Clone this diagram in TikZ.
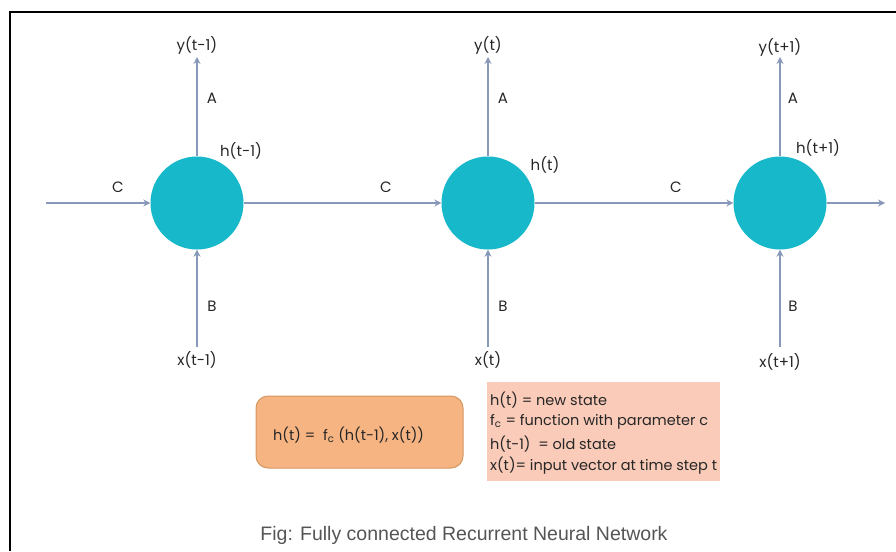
\documentclass[tikz,border=0pt]{standalone}
\usepackage{fontspec}
\setmainfont{Poppins}
\newfontfamily\capfont{Liberation Sans}
\usetikzlibrary{arrows.meta}
\definecolor{cellcyan}{RGB}{22,184,202}
\definecolor{wire}{RGB}{135,152,185}
\definecolor{eqfill}{RGB}{245,180,130}
\definecolor{eqdraw}{RGB}{214,150,95}
\definecolor{notefill}{RGB}{249,203,184}
\definecolor{captxt}{RGB}{85,85,85}
\begin{document}
\begin{tikzpicture}[x=1pt,y=-1pt,
  cell/.style={circle,fill=cellcyan,minimum size=93pt,inner sep=0pt},
  link/.style={draw=wire,line width=2.3pt,-{Stealth[length=7pt,width=7pt]}},
  lbl/.style={font=\fontsize{15}{17}\selectfont,text=black!85,inner sep=0pt},
  note/.style={font=\fontsize{14.5}{17}\selectfont,text=black!85,inner sep=0pt,anchor=west},
  eqbox/.style={draw=eqdraw,line width=1pt,fill=eqfill,rounded corners=12pt,minimum width=207pt,minimum height=72pt},
  notebox/.style={fill=notefill,minimum width=233pt,minimum height=99pt,inner sep=0pt}]
\useasboundingbox (0,0) rectangle (896,551);
% frame edges
\draw[line width=2pt] (10,551) -- (10,12) -- (896,12);

% recurrent cells
\node[cell] (h1) at (197,203) {};
\node[cell] (h2) at (488,203) {};
\node[cell] (h3) at (780,203) {};

% free ends of the connectors
\coordinate (cin) at (46,203);
\coordinate (cout) at (885,203);
\coordinate (y1) at (197,57);
\coordinate (y2) at (488,57);
\coordinate (y3) at (780,57);
\coordinate (x1) at (197,347);
\coordinate (x2) at (488,347);
\coordinate (x3) at (780,347);

% hidden-state chain
\draw[link] (cin) -- (h1.west);
\draw[link] (h1.east) -- (h2.west);
\draw[link] (h2.east) -- (h3.west);
\draw[link] (h3.east) -- (cout);
% outputs
\draw[link] (h1.north) -- (y1);
\draw[link] (h2.north) -- (y2);
\draw[link] (h3.north) -- (y3);
% inputs
\draw[link] (x1) -- (h1.south);
\draw[link] (x2) -- (h2.south);
\draw[link] (x3) -- (h3.south);

% weight labels
\node[lbl] (c1) at (118,187) {C};
\node[lbl] (c2) at (386,187) {C};
\node[lbl] (c3) at (676,187) {C};
\node[lbl] (a1) at (212,98) {A};
\node[lbl] (a2) at (503,98) {A};
\node[lbl] (a3) at (793,98) {A};
\node[lbl] (b1) at (212,306) {B};
\node[lbl] (b2) at (503,306) {B};
\node[lbl] (b3) at (793,306) {B};

% state, output and input names
\node[lbl] (hl1) at (241,151) {h(t-1)};
\node[lbl] (hl2) at (545,165) {h(t)};
\node[lbl] (hl3) at (818,148) {h(t+1)};
\node[lbl] (yl1) at (197,45) {y(t-1)};
\node[lbl] (yl2) at (488,45) {y(t)};
\node[lbl] (yl3) at (780,47) {y(t+1)};
\node[lbl] (xl1) at (197,360) {x(t-1)};
\node[lbl] (xl2) at (488,360) {x(t)};
\node[lbl] (xl3) at (780,362) {x(t+1)};

% recurrence formula
\node[eqbox] (eq) at (359.5,432) {};
\node[note] (eqtxt) at (273,435) {h(t) =\ \ f\textsubscript{c} (h(t-1), x(t))};

% legend
\node[notebox] (legend) at (603.5,431.5) {};
\node[note] (n1) at (490,400) {h(t) = new state};
\node[note] (n2) at (490,422) {f\textsubscript{c} = function with parameter c};
\node[note] (n3) at (490,444) {h(t-1)\ \ = old state};
\node[note] (n4) at (490,466) {x(t)= input vector at time step t};

% caption
\node[font=\capfont\fontsize{19.5}{22}\selectfont,text=captxt] (cap) at (464,535) {Fig: Fully connected Recurrent Neural Network};
\end{tikzpicture}
\end{document}
